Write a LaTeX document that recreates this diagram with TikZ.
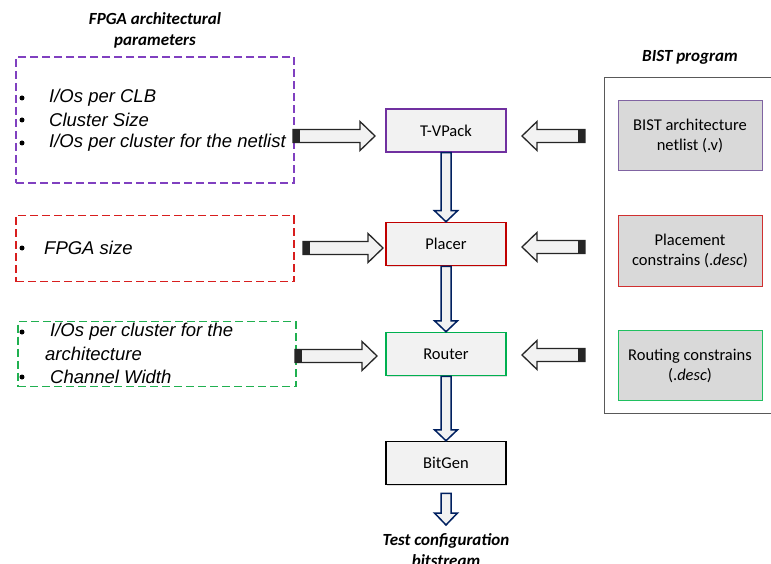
\documentclass[tikz,border=0pt]{standalone}
\usepackage{fontspec}
\setmainfont{Carlito}
\newfontfamily\arialf{Liberation Sans}
\usetikzlibrary{calc,shadows}
\definecolor{boxfill}{HTML}{F2F2F2}
\definecolor{bistfill}{HTML}{D9D9D9}
\definecolor{mypurple}{HTML}{7030A0}
\definecolor{dpurple}{HTML}{8040C0}
\definecolor{myred}{HTML}{C00000}
\definecolor{dred}{HTML}{D81E1E}
\definecolor{mygreen}{HTML}{00B050}
\definecolor{dgreen}{HTML}{20B050}
\definecolor{mynavy}{HTML}{002060}
\definecolor{bistpurple}{HTML}{8064A2}
\definecolor{bistred}{HTML}{D03030}
\definecolor{bistgreen}{HTML}{20C060}
\newcommand{\myblockarrow}[6][]{%
  \coordinate (BAH) at ($(#3)!#6!(#2)$);
  \filldraw[#1] ($(#2)!#4!90:(#3)$) -- ($(BAH)!#4!90:(#3)$) -- ($(BAH)!#5!90:(#3)$) -- (#3)
    -- ($(BAH)!#5!-90:(#3)$) -- ($(BAH)!#4!-90:(#3)$) -- ($(#2)!#4!-90:(#3)$) -- cycle;
}
\newcommand{\mytailblock}[2]{%
  \coordinate (BAT) at ($(#1)!7pt!(#2)$);
  \fill[black!85] ($(#1)!6.5pt!90:(#2)$) -- ($(BAT)!6.5pt!90:(#2)$) -- ($(BAT)!6.5pt!-90:(#2)$) -- ($(#1)!6.5pt!-90:(#2)$) -- cycle;
}
\tikzset{
  titletext/.style={font=\fontsize{17}{21}\selectfont\bfseries\itshape, align=center, inner sep=0},
  dashbox/.style={draw, dash pattern=on 8pt off 4pt, line width=1.1pt, inner sep=0},
  bullettext/.style={font=\arialf\fontsize{18.5}{22}\selectfont\itshape, anchor=west, inner sep=0},
  bulletdot/.style={fill=black, circle, minimum size=5pt, inner sep=0},
  procbox/.style={draw, line width=1.5pt, fill=boxfill, minimum width=120pt, minimum height=43pt, inner sep=0,
     font=\fontsize{16.5}{20}\selectfont, drop shadow={opacity=0.25, shadow xshift=1.2pt, shadow yshift=-1.2pt}},
  bistbox/.style={draw, line width=1pt, fill=bistfill, minimum width=144pt, minimum height=70pt, inner sep=0,
     font=\fontsize{16.5}{20}\selectfont, align=center},
  harrowst/.style={fill=boxfill, draw=black!85, line width=1.3pt, line join=miter},
  varrowst/.style={fill=boxfill, draw=mynavy, line width=1.5pt, line join=miter},
}
\begin{document}
\begin{tikzpicture}[x=1pt,y=-1pt]
\useasboundingbox[fill=white] (0,0) rectangle (771,564);

% left titles and dashed boxes
\node[titletext] (t1) at (155,30) {FPGA architectural\\parameters};
\node[dashbox, draw=dpurple, minimum width=278pt, minimum height=126pt] (pbox) at (155,120) {};
\node[dashbox, draw=dred, minimum width=278pt, minimum height=66pt] (rbox) at (155,248.5) {};
\node[dashbox, draw=dgreen, minimum width=278pt, minimum height=65pt] (gbox) at (157,354) {};

\node[bulletdot] (b1) at (22,98) {};
\node[bulletdot] (b2) at (22,120) {};
\node[bulletdot] (b3) at (22,143) {};
\node[bullettext] (l1) at (49,98) {I/Os per CLB};
\node[bullettext] (l2) at (49,120) {Cluster Size};
\node[bullettext] (l3) at (49,143) {I/Os per cluster for the netlist};

\node[bulletdot] (b4) at (22,248) {};
\node[bullettext] (l4) at (44,248) {FPGA size};

\node[bulletdot] (b5) at (22,332) {};
\node[bulletdot] (b6) at (22,377) {};
\node[bullettext] (l5) at (50,332) {I/Os per cluster for the};
\node[bullettext] (l6) at (45,354) {architecture};
\node[bullettext] (l7) at (50,377) {Channel Width};

% process boxes
\node[procbox, draw=mypurple] (tv) at (446,130.5) {T-VPack};
\node[procbox, draw=myred] (pl) at (446,244) {Placer};
\node[procbox, draw=mygreen] (ro) at (446,354) {Router};
\node[procbox, draw=black] (bg) at (446,463) {BitGen};
\node[titletext] (out) at (446,550) {Test configuration\\bitstream};

% BIST program
\node[titletext] (t2) at (690,57) {BIST program};
\draw[line width=1pt, black!65] (776,78) -- (604,78) -- (604,413) -- (776,413);
\node[bistbox, draw=bistpurple] (n1) at (690,136) {BIST architecture\\netlist (.v)};
\node[bistbox, draw=bistred] (n2) at (690,251) {Placement\\constrains (.\textit{desc})};
\node[bistbox, draw=bistgreen] (n3) at (690,365.5) {Routing constrains\\(.\textit{desc})};

% horizontal arrow endpoints
\coordinate (a1t) at (293,136);  \coordinate (a1p) at (375,136);
\coordinate (a2t) at (303,248);  \coordinate (a2p) at (383,248);
\coordinate (a3t) at (295,356);  \coordinate (a3p) at (377,356);
\coordinate (c1t) at (585,136);  \coordinate (c1p) at (522,136);
\coordinate (c2t) at (585,247);  \coordinate (c2p) at (522,247);
\coordinate (c3t) at (585,355);  \coordinate (c3p) at (522,355);

\foreach \t/\p in {a1t/a1p,a2t/a2p,a3t/a3p,c1t/c1p,c2t/c2p,c3t/c3p}{
  \myblockarrow[harrowst]{\t}{\p}{6.5pt}{14.5pt}{15pt}
  \mytailblock{\t}{\p}
}

% vertical arrows
\coordinate (o1) at ($(bg.south)+(0,8)$);
\coordinate (o2) at (446,525);
\myblockarrow[varrowst]{tv.south}{pl.north}{5pt}{11.5pt}{11pt}
\myblockarrow[varrowst]{pl.south}{ro.north}{5pt}{11.5pt}{11pt}
\myblockarrow[varrowst]{ro.south}{bg.north}{5pt}{11.5pt}{11pt}
\myblockarrow[varrowst]{o1}{o2}{5pt}{11.5pt}{12pt}
\end{tikzpicture}
\end{document}
